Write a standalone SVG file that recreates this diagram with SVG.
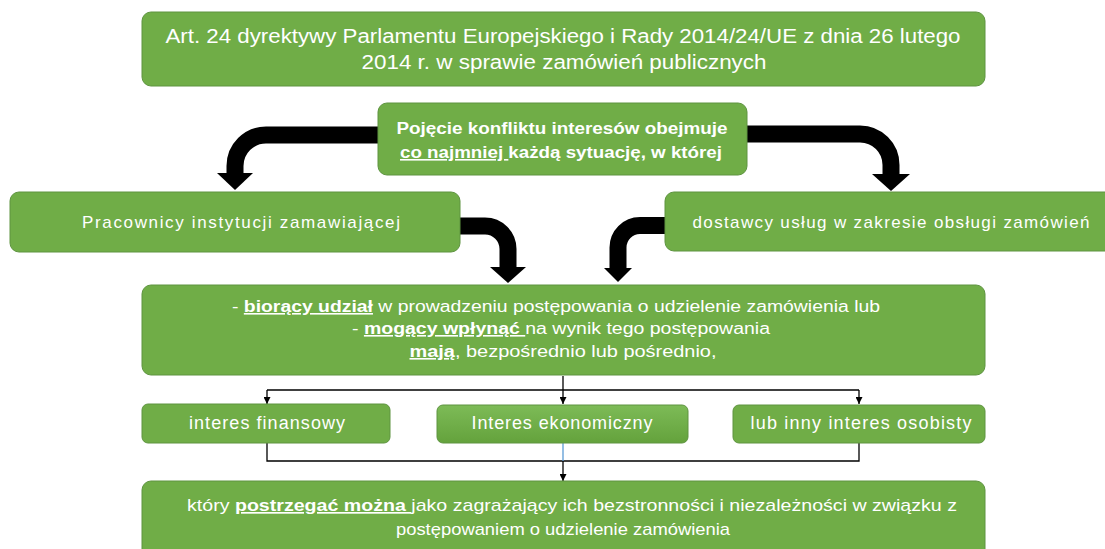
<svg xmlns="http://www.w3.org/2000/svg" width="1105" height="549" viewBox="0 0 1105 549">
<defs>
<style>
.box{fill:#70AD47;stroke:#5E9440;stroke-width:1}
.t{font-family:"Liberation Sans",Arial,sans-serif;fill:#ffffff;text-anchor:middle}
.b{font-weight:bold}
.u{text-decoration:underline}
.big{fill:none;stroke:#000;stroke-width:17}
.thin{fill:none;stroke:#000;stroke-width:1.3}
</style>
<linearGradient id="g" x1="0" y1="0" x2="0" y2="1">
<stop offset="0" stop-color="#7DBB57"/>
<stop offset="1" stop-color="#64A23C"/>
</linearGradient>
<marker id="ah" viewBox="0 0 10 10" refX="10" refY="5" markerWidth="7" markerHeight="7" markerUnits="userSpaceOnUse" orient="auto">
<path d="M0,0 L10,5 L0,10 Z" fill="#000"/>
</marker>
</defs>

<g id="connectors">
<path class="big" d="M380 135 H266 A31 31 0 0 0 235 166 V175"/>
<polygon points="217,173 253,173 235,190" fill="#000"/>
<path class="big" d="M746 134 H860 A31 31 0 0 1 891 165 V175"/>
<polygon points="872,174 910,174 891,191" fill="#000"/>
<path class="big" d="M459 226 H485 A23 23 0 0 1 508 249 V268"/>
<polygon points="490,267 526,267 508,283" fill="#000"/>
<path class="big" d="M666 225.5 H640 A22 22 0 0 0 618 247.5 V269"/>
<polygon points="604,268 632,268 618,282" fill="#000"/>
<path class="thin" d="M563 376 V390"/>
<path class="thin" d="M267 390 H859"/>
<path class="thin" d="M267 390 V404" marker-end="url(#ah)"/>
<path class="thin" d="M563 390 V404" marker-end="url(#ah)"/>
<path class="thin" d="M859 390 V404" marker-end="url(#ah)"/>
<path class="thin" d="M267 443 V461 H859 V443"/>
<path fill="none" stroke="#5B9BD5" stroke-width="1.3" d="M563 443 V461"/>
<path class="thin" d="M563 461 V481" marker-end="url(#ah)"/>
</g>

<g id="n-art24">
<rect class="box" x="142" y="12" width="843" height="74" rx="9"/>
<text class="t" font-size="20" x="563" y="43" textLength="795" lengthAdjust="spacingAndGlyphs">Art. 24 dyrektywy Parlamentu Europejskiego i Rady 2014/24/UE z dnia 26 lutego</text>
<text class="t" font-size="20" x="564" y="69" textLength="405" lengthAdjust="spacingAndGlyphs">2014 r. w sprawie zamówień publicznych</text>
</g>

<g id="n-pojecie">
<rect class="box" x="378" y="103" width="369" height="72" rx="9"/>
<text class="t b" font-size="16" x="562" y="134" textLength="331" lengthAdjust="spacingAndGlyphs">Pojęcie konfliktu interesów obejmuje</text>
<text class="t b" font-size="16" x="561" y="158" textLength="322" lengthAdjust="spacingAndGlyphs"><tspan class="u">co najmniej </tspan>każdą sytuację, w której</text>
</g>

<g id="n-pracownicy">
<rect class="box" x="10" y="192" width="450" height="60" rx="9"/>
<text class="t" font-size="17" x="241" y="228" textLength="318" lengthAdjust="spacing">Pracownicy instytucji zamawiającej</text>
</g>

<g id="n-dostawcy">
<rect class="box" x="665" y="192" width="450" height="59" rx="9"/>
<text class="t" font-size="17" x="891" y="228" textLength="397" lengthAdjust="spacing">dostawcy usług w zakresie obsługi zamówień</text>
</g>

<g id="n-biorący">
<rect class="box" x="142" y="285" width="843" height="90" rx="9"/>
<text class="t" font-size="16" x="556" y="312" textLength="648" lengthAdjust="spacingAndGlyphs">- <tspan class="b u">biorący  udział</tspan> w prowadzeniu postępowania o udzielenie zamówienia lub</text>
<text class="t" font-size="16" x="561" y="334" textLength="418" lengthAdjust="spacingAndGlyphs">- <tspan class="b u">mogący  wpłynąć </tspan>na wynik tego postępowania</text>
<text class="t" font-size="16" x="563" y="357" textLength="307" lengthAdjust="spacingAndGlyphs"><tspan class="b u">mają</tspan>, bezpośrednio lub pośrednio,</text>
</g>

<g id="n-finansowy">
<rect class="box" x="142" y="404" width="248" height="39" rx="6"/>
<text class="t" font-size="18" x="267" y="429" textLength="156" lengthAdjust="spacing">interes finansowy</text>
</g>

<g id="n-ekonomiczny">
<rect x="437" y="405" width="251" height="38" rx="6" fill="url(#g)" stroke="#5E9440" stroke-width="1"/>
<text class="t" font-size="18" x="562" y="429" textLength="181" lengthAdjust="spacing">Interes ekonomiczny</text>
</g>

<g id="n-osobisty">
<rect class="box" x="733" y="405" width="252" height="38" rx="6"/>
<text class="t" font-size="18" x="861" y="429" textLength="221" lengthAdjust="spacing">lub inny interes osobisty</text>
</g>

<g id="n-ktory">
<rect class="box" x="142" y="481" width="843" height="80" rx="9"/>
<text class="t" font-size="17" x="572" y="511" textLength="770" lengthAdjust="spacingAndGlyphs">który <tspan class="b u">postrzegać można </tspan>jako zagrażający ich bezstronności i niezależności w związku z</text>
<text class="t" font-size="17" x="563" y="535" textLength="334" lengthAdjust="spacingAndGlyphs">postępowaniem o udzielenie zamówienia</text>
</g>
</svg>
